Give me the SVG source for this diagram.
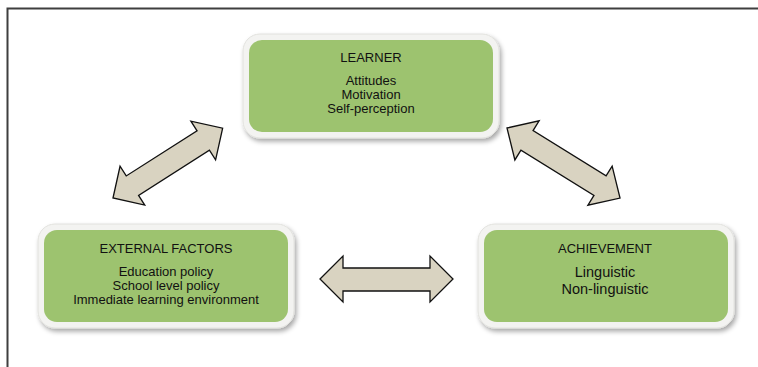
<svg xmlns="http://www.w3.org/2000/svg" width="758" height="367" viewBox="0 0 758 367">
<defs>
<filter id="sh" x="-10%" y="-10%" width="125%" height="130%">
<feGaussianBlur in="SourceAlpha" stdDeviation="2.5"/>
<feOffset dx="2" dy="3" result="b"/>
<feComponentTransfer><feFuncA type="linear" slope="0.35"/></feComponentTransfer>
<feMerge><feMergeNode/><feMergeNode in="SourceGraphic"/></feMerge>
</filter>
<path id="arr" d="M0,0 L23,-23 L23,-11.5 L107,-11.5 L107,-23 L130,0 L107,23 L107,11.5 L23,11.5 L23,23 Z"/>
</defs>
<style>
.frame{fill:none;stroke:#3f3f3f;stroke-width:2}
.outer{fill:#f3f3f1;stroke:#e2e2de;stroke-width:1;filter:url(#sh)}
.inner{fill:#9dc36f}
.t{font-family:"Liberation Sans",Arial,sans-serif;font-size:13px;fill:#111;text-anchor:middle}
.big{font-size:14.5px}
.arrow{fill:#d9d3c1;stroke:#111;stroke-width:1.3;stroke-linejoin:miter}
</style>
<rect width="758" height="367" fill="#ffffff"/>
<path class="frame" d="M7.5,367 L7.5,8.5 L758,8.5"/>

<g id="learner">
<rect class="outer" x="243" y="34" width="256" height="104" rx="17"/>
<rect class="inner" x="249" y="40" width="244" height="92" rx="13"/>
<text class="t" x="371" y="62">LEARNER</text>
<text class="t" x="371" y="85">Attitudes</text>
<text class="t" x="371" y="99">Motivation</text>
<text class="t" x="371" y="113">Self-perception</text>
</g>

<g id="external">
<rect class="outer" x="38" y="224" width="256" height="104" rx="17"/>
<rect class="inner" x="44" y="230" width="244" height="92" rx="13"/>
<text class="t" x="166" y="253">EXTERNAL FACTORS</text>
<text class="t" x="166" y="276">Education policy</text>
<text class="t" x="166" y="290">School level policy</text>
<text class="t" x="166" y="304">Immediate learning environment</text>
</g>

<g id="achievement">
<rect class="outer" x="478" y="224" width="256" height="104" rx="17"/>
<rect class="inner" x="484" y="230" width="244" height="92" rx="13"/>
<text class="t" x="605" y="253">ACHIEVEMENT</text>
<text class="t big" x="605" y="277">Linguistic</text>
<text class="t big" x="605" y="294">Non-linguistic</text>
</g>

<g id="connectors">
<use href="#arr" class="arrow" transform="translate(113,198) rotate(-32.5)"/>
<use href="#arr" class="arrow" transform="translate(507,128) rotate(31.8) scale(1.023,1)"/>
<path class="arrow" d="M320,279 L343,256 L343,268 L430,268 L430,256 L453,279 L430,302 L430,291 L343,291 L343,302 Z"/>
</g>
</svg>
